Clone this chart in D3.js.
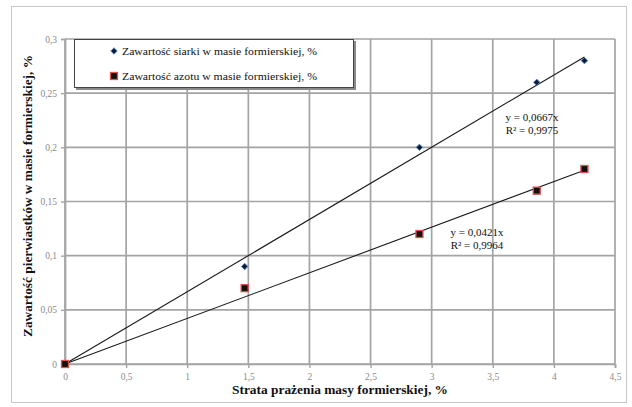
<!DOCTYPE html>
<html>
<head>
<meta charset="utf-8">
<script src="https://cdn.jsdelivr.net/npm/d3@7/dist/d3.min.js"></script>
<style>
  html, body { margin: 0; padding: 0; background: #fff; }
  svg { display: block; }
</style>
</head>
<body>
<svg id="chart" width="632" height="407"></svg>
<script>
// Loss on ignition of moulding sand (%) and element content (%)
const lossOnIgnition = [0, 1.47, 2.9, 3.86, 4.25];
const sulfurContent  = [0, 0.09, 0.20, 0.26, 0.28];
const nitrogenContent = [0, 0.07, 0.12, 0.16, 0.18];

const seriesNames = [
  "Zawartość siarki w masie formierskiej, %",
  "Zawartość azotu w masie formierskiej, %"
];
const trendSlopes = [0.0667, 0.0421];
const trendLabels = [
  ["y = 0,0667x", "R² = 0,9975"],
  ["y = 0,0421x", "R² = 0,9964"]
];

const xTicks = [0, 0.5, 1, 1.5, 2, 2.5, 3, 3.5, 4, 4.5];
const yTicks = [0, 0.05, 0.1, 0.15, 0.2, 0.25, 0.3];
const xTitle = "Strata prażenia masy formierskiej, %";
const yTitle = "Zawartość pierwiastków w masie formierskiej, %";

const svg = d3.select("#chart");
const serif = "'Liberation Serif', 'Times New Roman', serif";
const comma = v => String(v).replace(".", ",");

// outer chart frame
svg.append("rect")
  .attr("x", 11.5).attr("y", 6.5).attr("width", 615).attr("height", 396)
  .attr("fill", "#fff").attr("stroke", "#c8c8c8").attr("stroke-width", 1);

const x = d3.scaleLinear().domain([0, 4.5]).range([65, 615]);
const y = d3.scaleLinear().domain([0, 0.3]).range([364, 39]);

const gridColor = "#a4a4a4";

// gridlines
const grid = svg.append("g");
grid.selectAll("line.v").data(xTicks).join("line")
  .attr("x1", d => x(d)).attr("x2", d => x(d))
  .attr("y1", y(0)).attr("y2", y(0.3))
  .attr("stroke", gridColor).attr("stroke-width", 1.7);
grid.selectAll("line.h").data(yTicks).join("line")
  .attr("x1", x(0)).attr("x2", x(4.5))
  .attr("y1", d => y(d)).attr("y2", d => y(d))
  .attr("stroke", gridColor).attr("stroke-width", 1.7);

// axes with comma decimal tick labels
const xAxis = d3.axisBottom(x).tickValues(xTicks).tickFormat(comma).tickSize(4).tickPadding(5);
const gx = svg.append("g").attr("transform", `translate(0,${y(0)})`).call(xAxis);
const yAxis = d3.axisLeft(y).tickValues(yTicks).tickFormat(comma).tickSize(4).tickPadding(4);
const gy = svg.append("g").attr("transform", `translate(${x(0)},0)`).call(yAxis);
[gx, gy].forEach(g => {
  g.select(".domain").attr("stroke", gridColor).attr("stroke-width", 1.7);
  g.selectAll(".tick line").attr("stroke", gridColor).attr("stroke-width", 1.4);
  g.selectAll(".tick text").attr("fill", "#8a8a8a")
    .attr("font-family", serif).attr("font-size", 9.5);
});

// linear trendlines through the origin
const trendLine = d3.line().x(d => x(d[0])).y(d => y(d[1]));
trendSlopes.forEach(k => {
  const xMax = d3.max(lossOnIgnition);
  svg.append("path")
    .attr("d", trendLine([[0, 0], [xMax, k * xMax]]))
    .attr("fill", "none").attr("stroke", "#1a1a1a").attr("stroke-width", 1.1);
});

// data markers
const sulfurPts = lossOnIgnition.map((v, i) => [v, sulfurContent[i]]);
const nitrogenPts = lossOnIgnition.map((v, i) => [v, nitrogenContent[i]]);
const diamond = d3.symbol().type(d3.symbolDiamond2).size(26);

svg.append("g").selectAll("path").data(sulfurPts).join("path")
  .attr("d", diamond)
  .attr("transform", d => `translate(${x(d[0])},${y(d[1])})`)
  .attr("fill", "#0e1a36").attr("stroke", "#4f81bd").attr("stroke-width", 1);

svg.append("g").selectAll("rect").data(nitrogenPts).join("rect")
  .attr("x", d => x(d[0]) - 3.5).attr("y", d => y(d[1]) - 3.5)
  .attr("width", 7).attr("height", 7)
  .attr("fill", "#111").attr("stroke", "#d9534f").attr("stroke-width", 1.3);

// trendline equations
const labelPos = [[532, 121], [477, 236]];
trendLabels.forEach((lines, i) => {
  const t = svg.append("text")
    .attr("x", labelPos[i][0]).attr("y", labelPos[i][1])
    .attr("text-anchor", "middle").attr("font-family", serif)
    .attr("font-size", 11).attr("fill", "#111");
  lines.forEach((s, j) => t.append("tspan")
    .attr("x", labelPos[i][0]).attr("dy", j ? 13 : 0).text(s));
});

// legend with shadowed border
const lg = svg.append("g");
lg.append("rect").attr("x", 76).attr("y", 41).attr("width", 280).attr("height", 49)
  .attr("fill", "#8a8a8a");
lg.append("rect").attr("x", 74.5).attr("y", 39.5).attr("width", 279).attr("height", 48)
  .attr("fill", "#fff").attr("stroke", "#444").attr("stroke-width", 1);
lg.append("path").attr("d", diamond)
  .attr("transform", "translate(114,51)")
  .attr("fill", "#0e1a36").attr("stroke", "#4f81bd").attr("stroke-width", 1);
lg.append("rect").attr("x", 110.5).attr("y", 72.5).attr("width", 7).attr("height", 7)
  .attr("fill", "#111").attr("stroke", "#d9534f").attr("stroke-width", 1.3);
seriesNames.forEach((name, i) => {
  lg.append("text")
    .attr("x", 122).attr("y", 55 + i * 25)
    .attr("font-family", serif).attr("font-size", 11).attr("fill", "#111")
    .attr("textLength", 195).attr("lengthAdjust", "spacingAndGlyphs")
    .text(name);
});

// axis titles
svg.append("text")
  .attr("x", 340).attr("y", 394)
  .attr("text-anchor", "middle").attr("font-family", serif)
  .attr("font-weight", "bold").attr("font-size", 12.5).attr("fill", "#111")
  .attr("textLength", 216).attr("lengthAdjust", "spacingAndGlyphs")
  .text(xTitle);
svg.append("text")
  .attr("transform", "translate(32,196) rotate(-90)")
  .attr("text-anchor", "middle").attr("font-family", serif)
  .attr("font-weight", "bold").attr("font-size", 12.5).attr("fill", "#111")
  .attr("textLength", 282).attr("lengthAdjust", "spacingAndGlyphs")
  .text(yTitle);
</script>
</body>
</html>
